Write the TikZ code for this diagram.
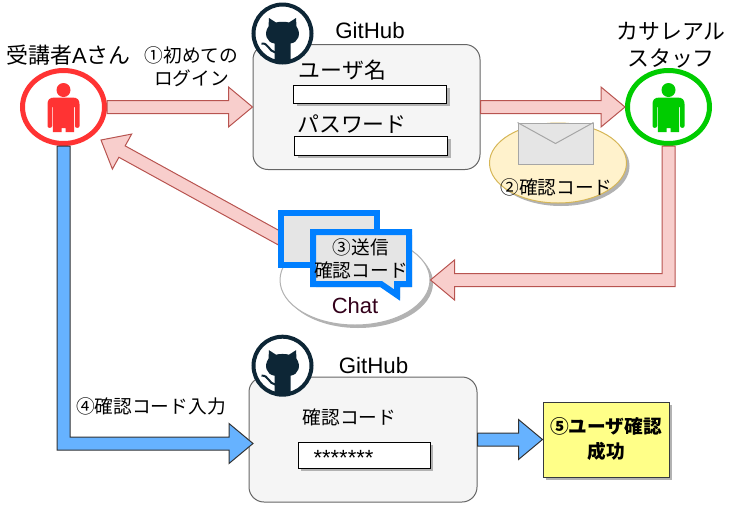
\documentclass[tikz,border=0pt]{standalone}
\usepackage{fontspec}
\setmainfont{Liberation Sans}
\newfontfamily\cjk{Noto Sans CJK JP}
\usetikzlibrary{calc,shapes.geometric,shadows}
\definecolor{pinkfill}{HTML}{F8CECC}
\definecolor{pinkline}{HTML}{B85450}
\definecolor{bluefill}{HTML}{66B2FF}
\definecolor{blueline}{HTML}{333333}
\definecolor{bubble}{HTML}{007FFF}
\definecolor{logoink}{HTML}{0D2636}
\definecolor{redp}{HTML}{FF3333}
\definecolor{greenp}{HTML}{00CC00}
\definecolor{mailfill}{HTML}{FFF2CC}
\definecolor{mailline}{HTML}{D6B656}
\definecolor{notefill}{HTML}{FFFF88}
\definecolor{noteline}{HTML}{36393D}
\tikzset{
  pinkarrow/.style={draw=pinkline,fill=pinkfill,line width=1pt,line join=miter},
  bluearrow/.style={draw=blueline,fill=bluefill,line width=1pt,line join=miter},
  softshadow/.style={drop shadow={shadow xshift=3pt,shadow yshift=-3pt,fill=black!30,opacity=1}},
  personring/.style={ellipse,draw=#1,line width=5pt,fill=white,minimum width=82pt,minimum height=73pt,inner sep=0pt,outer sep=2.5pt},
  panel/.style={draw=black!60,fill=black!4,line width=1pt,rounded corners=15pt,inner sep=0pt},
  field/.style={draw=black,fill=white,line width=1pt,inner sep=0pt,softshadow},
  jplarge/.style={inner sep=0pt,font=\fontsize{21.9}{27}\selectfont\cjk,align=center},
  jp/.style={inner sep=0pt,font=\fontsize{18.7}{23}\selectfont\cjk,align=center},
  latin/.style={inner sep=0pt,font=\fontsize{22.3}{26}\selectfont},
  logoring/.style={circle,draw=logoink,line width=4pt,fill=white,minimum size=58pt,inner sep=0pt},
  mailbg/.style={ellipse,draw=mailline,fill=mailfill,line width=1pt,inner sep=0pt,softshadow},
  bubblebox/.style={draw=bubble,line width=6pt,fill=black!10,line join=miter},
}
% straight block arrow from #2 to #3
\newcommand{\blockarrow}[3]{%
  \coordinate (bb) at ($(#3)!24pt!(#2)$);
  \draw[#1] ($(#2)!6.5pt!90:(#3)$) -- ($(bb)!6.5pt!90:(#3)$) -- ($(bb)!20pt!90:(#3)$) -- (#3)
    -- ($(bb)!20pt!-90:(#3)$) -- ($(bb)!6.5pt!-90:(#3)$) -- ($(#2)!6.5pt!-90:(#3)$) -- cycle;
}
\newcommand{\personicon}[2]{%
  \begin{scope}[shift={(#1)}]
    \fill[#2] (0,-17) circle[radius=7];
    \fill[#2] (-9,-9.5) -- (9,-9.5) .. controls (14,-9.5) and (16,-7) .. (16,-3) -- (16,19)
      .. controls (16,21.5) and (11.5,21.5) .. (11.5,19) -- (11.5,0) -- (10.7,0) -- (10.7,25) -- (2,25) -- (2,21) -- (-2,21) -- (-2,25)
      -- (-10.7,25) -- (-10.7,0) -- (-11.5,0) -- (-11.5,19) .. controls (-11.5,21.5) and (-16,21.5) .. (-16,19) -- (-16,-3)
      .. controls (-16,-7) and (-14,-9.5) .. (-9,-9.5) -- cycle;
  \end{scope}}
\newcommand{\catlogo}[1]{%
  \begin{scope}[shift={(#1)}]
    \fill[logoink] (-13.5,-15.5) -- (-6.5,-11) .. controls (-3,-12) and (3,-12) .. (6.5,-11) -- (13.5,-15.5)
      -- (14,-7) .. controls (19,0) and (16,9) .. (8,10) -- (8,28) -- (-8,28) -- (-8,10)
      .. controls (-16,9) and (-19,0) .. (-14,-7) -- cycle;
    \draw[logoink,line width=2pt] (-21,10) .. controls (-14,9) and (-14,18) .. (-7,19);
  \end{scope}}
\begin{document}
\begin{tikzpicture}[x=1pt,y=-1pt]
\useasboundingbox (0,0) rectangle (729,515);
% main nodes
\node[personring=redp] (userA) at (63.5,107) {};
\node[personring=greenp] (staff) at (668.5,107) {};
\personicon{userA}{redp}
\personicon{staff}{greenp}
\node[jplarge,anchor=center] (userAlabel) at (68.5,55) {受講者{\fontspec{Liberation Sans}A}さん};
\node[jplarge] (stafflabel) at (671,45) {カサレアル\\スタッフ};

% login panel
\node[panel,minimum width=227pt,minimum height=125pt] (login) at (366.5,107) {};
\node[logoring] (logoA) at (282.5,33.5) {};
\catlogo{logoA}
\node[latin] (ghA) at (370,31) {GitHub};
\node[jplarge] (userlabel) at (342.5,70) {ユーザ名};
\node[field,minimum width=153pt,minimum height=18pt] (userfield) at (370,94) {};
\node[jplarge] (passlabel) at (352,124) {パスワード};
\node[field,minimum width=153pt,minimum height=19pt] (passfield) at (371,145.5) {};

% upper arrows
\blockarrow{pinkarrow}{userA.east}{login.west}
\blockarrow{pinkarrow}{login.east}{staff.west}
\node[jp] (firstlogin) at (191.5,66.5) {①初めての\\ログイン};

% mail
\node[mailbg,minimum width=137pt,minimum height=80pt] (mailbg) at (558,163) {};
\node[draw=black!35,fill=black!10,line width=1pt,minimum width=75pt,minimum height=41pt,inner sep=0pt] (mail) at (555.5,143.5) {};
\draw[draw=black!35,line width=1pt] (mail.north west) -- ($(mail.north)+(0,21)$) -- (mail.north east);
\node[jp] (maillabel) at (556.5,187.5) {②確認コード};

% chat
\node[ellipse,draw=black!30,fill=white,line width=1pt,inner sep=0pt,softshadow,minimum width=150pt,minimum height=90pt] (chat) at (355,280) {};
\coordinate (chatout) at (281,239);
\coordinate (userAin) at (101,140);
\blockarrow{pinkarrow}{chatout}{userAin}
\draw[pinkarrow] let \p1=(staff.south),\p2=(chat.east) in
  (\x1-6.5pt,\y1) -- (\x1+6.5pt,\y1) -- (\x1+6.5pt,\y2-6.5pt) -- (\x2+24pt,\y2-6.5pt) -- (\x2+24pt,\y2-20pt) -- (\x2,\y2)
  -- (\x2+24pt,\y2+20pt) -- (\x2+24pt,\y2+6.5pt) -- (\x1-6.5pt,\y2+6.5pt) -- cycle;
\node[bubblebox,softshadow,minimum width=96pt,minimum height=52pt,inner sep=0pt] (bubbleback) at (329,239) {};
\draw[bubblebox,drop shadow={shadow xshift=3pt,shadow yshift=-3pt,fill=black!30,opacity=1}]
  (313,232) -- (409,232) -- (409,284) -- (397,284) -- (397,295) -- (381,284) -- (313,284) -- cycle;
\node[jp] (sendlabel) at (361,258.5) {③送信\\確認コード};
\node[inner sep=0pt,text={rgb,255:red,51;green,0;blue,26},font=\fontsize{22}{26}\selectfont] (chatlabel) at (355,305.5) {Chat};

% verify panel
\node[panel,minimum width=228pt,minimum height=125pt] (verify) at (363,439.5) {};
\node[logoring] (logoB) at (282.5,365.7) {};
\catlogo{logoB}
\node[latin] (ghB) at (373.5,366) {GitHub};
\node[jp] (codelabel) at (349.5,417) {確認コード};
\node[field,draw=black,minimum width=132pt,minimum height=26pt] (codefield) at (364,455) {};
\node[inner sep=0pt,font=\fontsize{22}{26}\selectfont] (stars) at (343.5,458) {*******};

% blue arrows
\coordinate (verifyin) at (253,443.5);
\draw[bluearrow] let \p1=(userA.south),\p2=(verifyin) in
  (\x1-6.5pt,\y1) -- (\x1+6.5pt,\y1) -- (\x1+6.5pt,\y2+6.5pt) -- (\x2-24pt,\y2+6.5pt) -- (\x2-24pt,\y2+20pt) -- (\x2,\y2)
  -- (\x2-24pt,\y2-20pt) -- (\x2-24pt,\y2-6.5pt) -- (\x1-6.5pt,\y2-6.5pt) -- cycle;
\node[jp] (inputlabel) at (151,406) {④確認コード入力};
\node[draw=noteline,fill=notefill,line width=1pt,softshadow,minimum width=126pt,minimum height=75pt,inner sep=0pt,
  font=\fontsize{18.7}{25}\selectfont\cjk\bfseries,align=center] (success) at (606,439.5) {⑤ユーザ確認\\成功};
\blockarrow{bluearrow}{verify.east}{success.west}
\end{tikzpicture}
\end{document}
